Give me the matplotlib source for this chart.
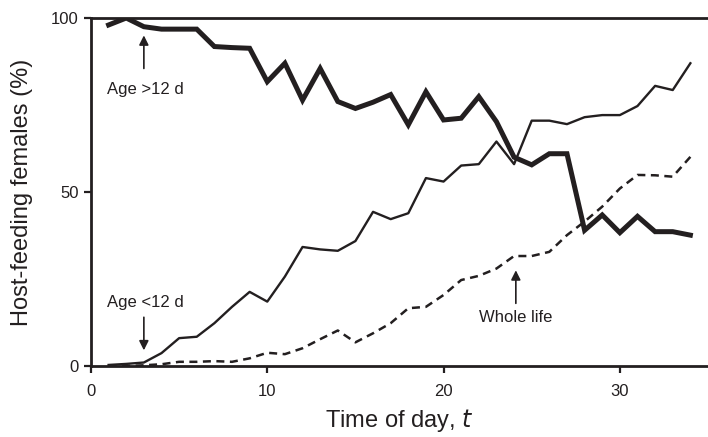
import numpy as np
import matplotlib.pyplot as plt

plt.rcParams['font.family'] = ['Liberation Sans', 'DejaVu Sans']

# Days
t_old = np.arange(1, 35)
t_young = np.arange(1, 35)
t_whole = np.arange(1, 35)

# Age > 12 d (thick line)
old = [98, 100, 97.5, 96.8, 96.8, 96.8, 91.8, 91.5, 91.3, 81.7,
       87, 76.4, 85.5, 76, 74, 75.8, 78, 69.3, 78.8, 70.7,
       71.2, 77.4, 70.2, 60, 57.8, 61, 61, 39, 43.4, 38.3,
       43, 38.6, 38.6, 37.6]

# Age < 12 d (thin line)
young = [0.3, 0.6, 1, 3.7, 8, 8.4, 12.3, 17, 21.3, 18.5,
         25.7, 34.2, 33.5, 33.1, 35.9, 44.3, 42.2, 43.9, 54, 53,
         57.6, 58, 64.5, 58, 70.5, 70.5, 69.5, 71.5, 72.1, 72.1,
         74.7, 80.5, 79.3, 87]

# Whole life (dashed)
whole = [0, 0, 0.2, 0.5, 1.2, 1.2, 1.4, 1.2, 2.2, 3.8,
         3.4, 5.1, 7.7, 10.2, 6.8, 9.4, 12.3, 16.6, 17, 20.4,
         24.7, 25.9, 28, 31.6, 31.6, 32.8, 37.6, 41.5, 45.8, 51,
         54.9, 54.8, 54.4, 60.1]

ink = '#231f20'

fig = plt.figure(figsize=(7.08, 4.37), dpi=100)
ax = fig.add_axes([0.1285, 0.1625, 0.8715, 0.7963])

ax.plot(t_old, old, color=ink, lw=3.6, solid_joinstyle='miter')
ax.plot(t_young, young, color=ink, lw=1.7)
ax.plot(t_whole, whole, color=ink, lw=1.8, dashes=(3.2, 2.2))

ax.set_xlim(0, 35)
ax.set_ylim(0, 100)
ax.set_xticks([0, 10, 20, 30])
ax.set_yticks([0, 50, 100])
ax.tick_params(direction='out', length=5, width=1.6, labelsize=12, colors=ink)
ax.tick_params(axis='x', pad=8)
ax.tick_params(axis='y', pad=4)

for side in ['left', 'top', 'bottom']:
    ax.spines[side].set_linewidth(2)
    ax.spines[side].set_color(ink)
ax.spines['right'].set_visible(False)

ax.set_xlabel('Time of day, $t$', fontsize=17, color=ink, labelpad=6)
ax.set_ylabel('Host-feeding females (%)', fontsize=17, color=ink, labelpad=13)

arrow = dict(arrowstyle='-|>', lw=1.2, color=ink, mutation_scale=14, shrinkA=0, shrinkB=0)
ax.annotate('', xy=(3, 95), xytext=(3, 85.5), arrowprops=arrow)
ax.text(0.9, 79.5, 'Age >12 d', fontsize=12, color=ink, va='center', ha='left')

ax.annotate('', xy=(3, 4.5), xytext=(3, 14), arrowprops=arrow)
ax.text(0.9, 18.2, 'Age <12 d', fontsize=12, color=ink, va='center', ha='left')

ax.annotate('', xy=(24.1, 27.5), xytext=(24.1, 18), arrowprops=arrow)
ax.text(24.1, 13.8, 'Whole life', fontsize=12, color=ink, va='center', ha='center')

fig.savefig('out.png', dpi=100)
